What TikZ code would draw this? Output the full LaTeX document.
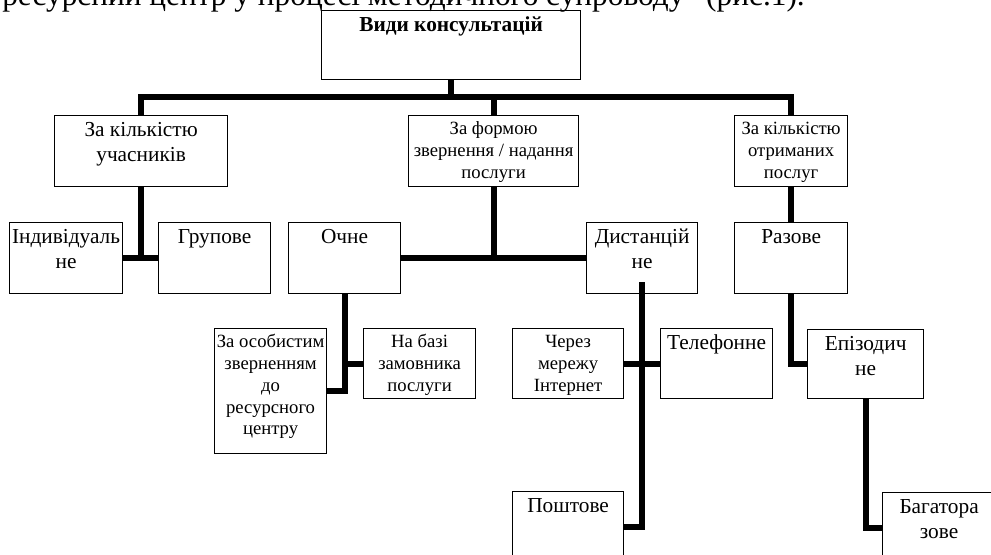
\documentclass[tikz,border=0pt]{standalone}
\usepackage{fontspec}
\setmainfont{Liberation Serif}
\usetikzlibrary{positioning}
% one pixel of the scheme
\newlength{\pxu}
\setlength{\pxu}{0.75pt}
% text set at the top of a box of given width and height
\newcommand{\boxtxt}[3]{\parbox[c][#2\pxu][t]{#1\pxu}{\centering\vspace*{4\pxu}\strut#3}}
\newcommand{\fbig}{\fontsize{16}{18.5}\selectfont}
\newcommand{\fsml}{\fontsize{14}{16.3}\selectfont}
\tikzset{
  % Box of the scheme
  box/.style={draw, line width=0.9pt, inner sep=0pt, anchor=north west,
    font=\fbig},
  % Box with smaller text
  sbox/.style={box, font=\fsml},
  % Thick connector
  link/.style={line width=4.5pt},
}

\begin{document}
\begin{tikzpicture}[x=0.75pt, y=-0.75pt]
  \useasboundingbox (0,0) rectangle (991,555);
  \clip (0,0) rectangle (991,555);

  % line of the page above the scheme
  \node[anchor=base west, inner sep=0pt, font=\fontsize{23.5}{28}\selectfont]
  (head) at (2,6) {ресурсний центр у процесі методичного супроводу” (рис.1).};

  % top
  \node[box] (root) at (321,10) {\boxtxt{259}{69}{\textbf{Види консультацій}}};

  % second row
  \node[box] (cnt) at (54,115) {\boxtxt{173}{71}{За кількістю\\учасників}};
  \node[sbox] (form) at (408,115) {\boxtxt{170}{71}{За формою\\звернення / надання\\послуги}};
  \node[sbox] (rcv) at (734,115) {\boxtxt{113}{71}{За кількістю\\отриманих\\послуг}};

  % third row
  \node[box] (ind) at (9,222) {\boxtxt{113}{71}{Індивідуаль\\не}};
  \node[box] (grp) at (158,222) {\boxtxt{112}{71}{Групове}};
  \node[box] (och) at (288,222) {\boxtxt{112}{71}{Очне}};
  \node[box] (dist) at (586,222) {\boxtxt{111}{71}{Дистанцій\\не}};
  \node[box] (raz) at (734,222) {\boxtxt{113}{71}{Разове}};

  % fourth row
  \node[sbox] (osob) at (214,328) {\boxtxt{112}{125}{За особистим\\зверненням\\до\\ресурсного\\центру}};
  \node[sbox] (baza) at (363,328) {\boxtxt{112}{70}{На базі\\замовника\\послуги}};
  \node[sbox] (inet) at (512,328) {\boxtxt{111}{70}{Через\\мережу\\Інтернет}};
  \node[box] (tel) at (660,328) {\boxtxt{112}{70}{Телефонне}};
  \node[box] (epi) at (807,329) {\boxtxt{116}{69}{Епізодич\\не}};

  % bottom row
  \node[box] (post) at (512,491) {\boxtxt{111}{71}{Поштове}};
  \node[box] (bag) at (882,492) {\boxtxt{113}{71}{Багатора\\зове}};

  % connectors
  \draw[link] (cnt.north) -- ++(0,-18) -| (rcv.north);
  \draw[link] (root.south) -- ++(0,18);
  \draw[link] (form.north) -- ++(0,-18);

  \draw[link] (cnt.south) -- (cnt.south |- ind.east);
  \draw[link] (ind.east) -- (grp.west);

  \draw[link] (form.south) -- (form.south |- och.east);
  \draw[link] (och.east) -- (dist.west);
  \draw[link] (rcv.south) -- (raz.north);

  \draw[link] (och.south) |- (osob.east);
  \draw[link] (och.south |- baza.west) -- (baza.west);

  \draw[link] ([yshift=9pt]dist.south) |- (post.east);
  \draw[link] (inet.east) -- (tel.west);

  \draw[link] (raz.south) |- (epi.west);
  \draw[link] (epi.south) |- (bag.west);
\end{tikzpicture}
\end{document}
